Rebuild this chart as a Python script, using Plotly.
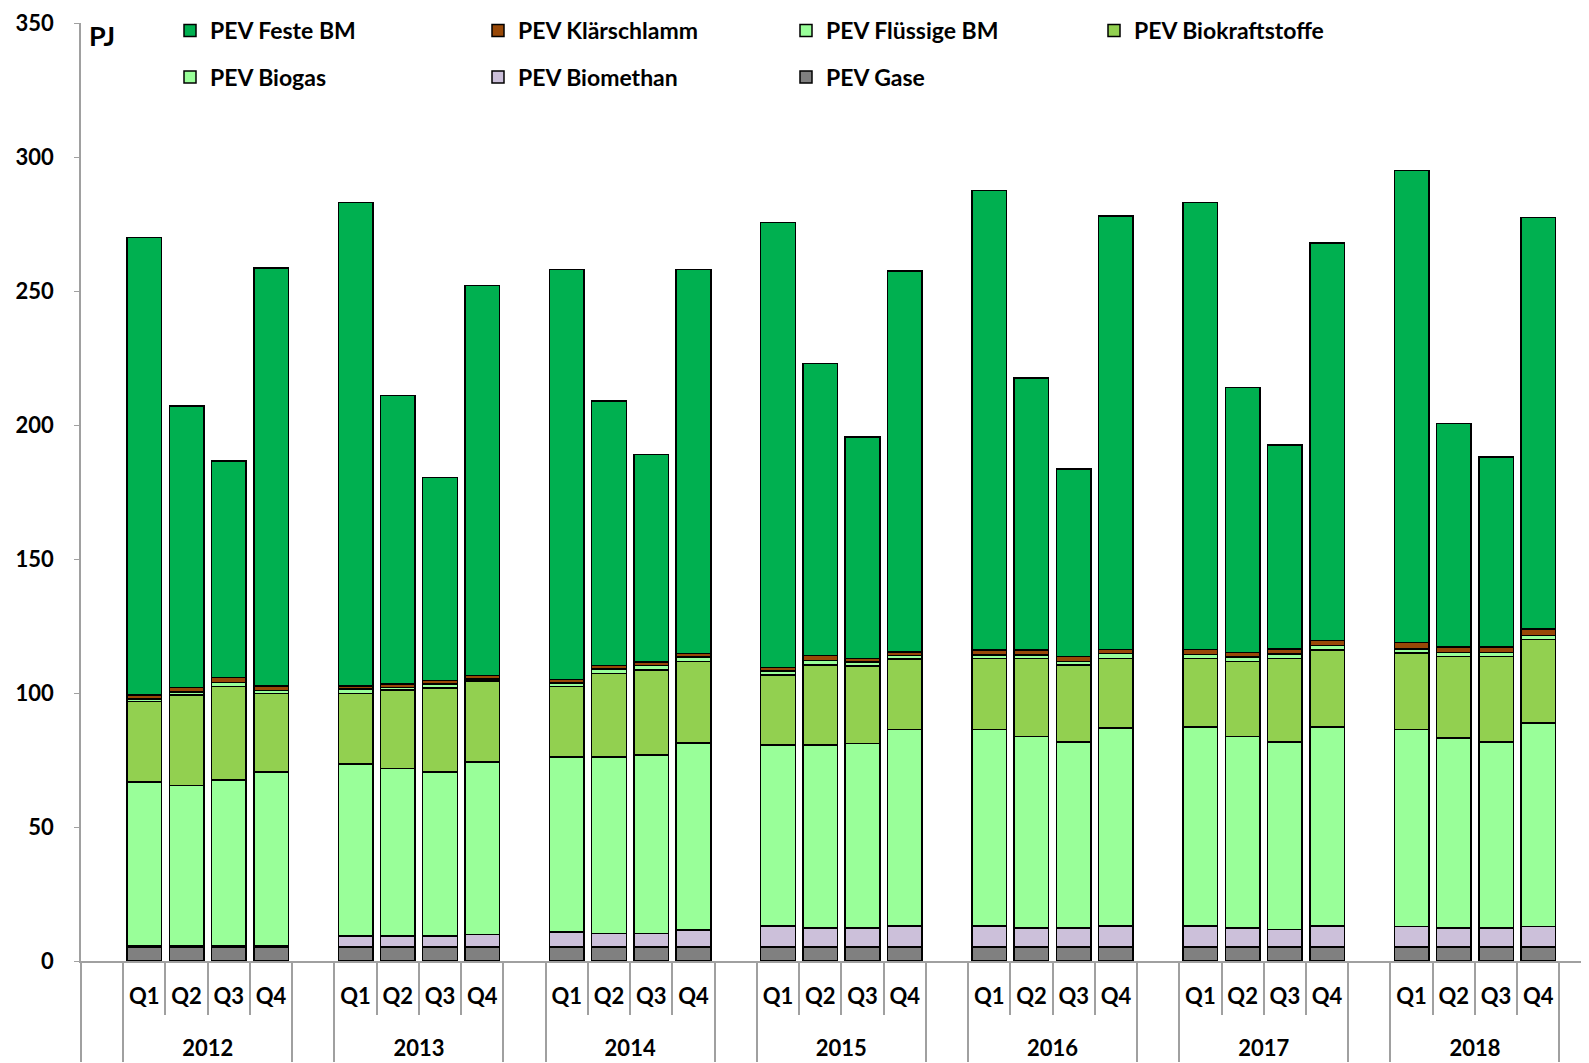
import plotly.graph_objects as go

years = ["2012", "2013", "2014", "2015", "2016", "2017", "2018"]
quarters = ["Q1", "Q2", "Q3", "Q4"]

# PJ per quarter, 2012 Q1 ... 2018 Q4
pev_gase = [5.3] * 28
pev_biomethan = [
    0.4, 0.4, 0.4, 0.4,
    4.0, 4.0, 4.0, 4.6,
    5.6, 5.0, 5.0, 6.3,
    7.8, 7.1, 7.1, 7.8,
    7.8, 7.1, 7.1, 7.8,
    7.8, 7.1, 6.5, 7.8,
    7.5, 7.0, 7.0, 7.5,
]
pev_biogas = [
    61.1, 59.8, 61.8, 64.8,
    64.3, 62.5, 61.2, 64.4,
    65.3, 65.9, 66.6, 69.7,
    67.5, 68.2, 68.8, 73.2,
    73.2, 71.4, 69.4, 73.8,
    74.3, 71.3, 69.9, 74.3,
    73.5, 70.9, 69.5, 76.0,
]
pev_biokraftstoffe = [
    30.0, 33.8, 35.0, 29.4,
    26.3, 29.3, 31.3, 30.1,
    26.2, 31.1, 31.7, 30.5,
    26.1, 29.8, 28.8, 26.3,
    26.6, 29.1, 28.6, 26.0,
    25.5, 28.1, 31.2, 28.6,
    28.7, 30.5, 31.9, 31.2,
]
pev_fluessige_bm = [
    0.9, 1.0, 1.5, 1.0,
    1.6, 1.0, 1.6, 0.8,
    1.4, 1.7, 1.7, 1.6,
    1.6, 1.8, 1.6, 1.4,
    1.3, 1.3, 1.3, 1.9,
    1.5, 1.6, 1.7, 1.8,
    1.4, 1.5, 1.5, 1.5,
]
pev_klaerschlamm = [
    1.6, 1.7, 1.8, 1.7,
    1.2, 1.3, 1.2, 1.3,
    1.3, 1.2, 1.3, 1.3,
    1.3, 1.8, 1.2, 1.3,
    1.8, 1.8, 2.0, 1.4,
    1.9, 1.8, 1.9, 1.8,
    2.5, 2.0, 2.0, 2.4,
]
pev_feste_bm = [
    170.7, 105.0, 80.7, 155.9,
    180.3, 107.6, 75.9, 145.5,
    152.9, 98.8, 77.4, 143.3,
    165.9, 109.0, 82.7, 142.2,
    171.5, 101.5, 69.8, 161.8,
    166.7, 98.8, 76.0, 148.4,
    176.1, 83.3, 70.8, 153.6,
]

FONT = "Lato"

# label of the empty slots: a space in a bigger font makes the quarter row
# a bit taller, which pushes the year row down
gap_label = "<span style='font-size:30px'> </span>"

# x axis: an empty slot before every year and one after the last
x_year, x_quarter, slot = [], [], []
k = 0
for i, yr in enumerate(years):
    x_year.append(" " * (i + 1))
    x_quarter.append(gap_label)
    slot.append(None)
    for q in quarters:
        x_year.append("<br>" + yr)
        x_quarter.append(q)
        slot.append(k)
        k += 1
x_year.append(" " * (len(years) + 1))
x_quarter.append(gap_label)
slot.append(None)


def spread(values):
    return [None if s is None else values[s] for s in slot]


series = [
    ("PEV Gase", pev_gase, "#808080", "legend2"),
    ("PEV Biomethan", pev_biomethan, "#CCC0DA", "legend2"),
    ("PEV Biogas", pev_biogas, "#99FF99", "legend2"),
    ("PEV Biokraftstoffe", pev_biokraftstoffe, "#92D050", "legend"),
    ("PEV Flüssige BM", pev_fluessige_bm, "#99FF99", "legend"),
    ("PEV Klärschlamm", pev_klaerschlamm, "#984807", "legend"),
    ("PEV Feste BM", pev_feste_bm, "#00B050", "legend"),
]

fig = go.Figure()
for name, values, color, leg in series:
    fig.add_trace(
        go.Bar(
            x=[x_year, x_quarter],
            y=spread(values),
            name=name,
            marker=dict(color=color, line=dict(color="black", width=1.5)),
            legend=leg,
        )
    )

legend_common = dict(
    orientation="h",
    x=(170 - 81) / 1508,
    xanchor="left",
    yanchor="middle",
    traceorder="reversed",
    entrywidth=263,
    entrywidthmode="pixels",
    font=dict(family=FONT, size=23, color="black", weight="bold"),
    bgcolor="rgba(0,0,0,0)",
)

# page body adds 8px, so the figure is 8px smaller than the window
fig.update_layout(
    width=1581,
    height=1055,
    barmode="stack",
    bargap=0.18,
    plot_bgcolor="white",
    paper_bgcolor="white",
    margin=dict(l=73, r=0, t=15, b=102, autoexpand=False),
    legend=dict(y=(961 - 30.5) / 938, **legend_common),
    legend2=dict(y=(961 - 77) / 938, **legend_common),
    font=dict(family=FONT, color="black"),
)

fig.update_xaxes(
    type="multicategory",
    range=[-0.5, 35.2],
    automargin=False,
    showline=True,
    linecolor="#a0a0a0",
    linewidth=1.5,
    showgrid=False,
    ticks="outside",
    ticklen=52,
    tickcolor="#a0a0a0",
    tickwidth=1.5,
    tickangle=0,
    ticklabelstandoff=15,
    showdividers=True,
    dividercolor="#a0a0a0",
    dividerwidth=1.5,
    tickfont=dict(family=FONT, size=22, color="black", weight="bold"),
)

fig.update_yaxes(
    range=[0, 350],
    dtick=50,
    automargin=False,
    showline=True,
    linecolor="#a0a0a0",
    linewidth=1.5,
    showgrid=False,
    zeroline=False,
    ticks="outside",
    ticklen=5,
    tickcolor="#a0a0a0",
    ticklabelstandoff=16,
    tickfont=dict(family=FONT, size=22, color="black", weight="bold"),
)

fig.add_annotation(
    text="PJ",
    xref="paper",
    yref="paper",
    x=0.004,
    y=(961 - 35.5) / 938,
    xanchor="left",
    yanchor="middle",
    showarrow=False,
    font=dict(family=FONT, size=27, color="black", weight="bold"),
)

fig.write_html("out.html")
